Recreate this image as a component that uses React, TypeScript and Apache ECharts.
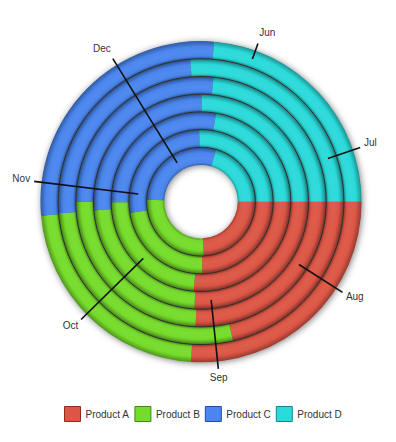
import React, { useEffect, useRef } from "react";
import * as echarts from "echarts";

// ---- data (percent share of each month) ----
const months = ["Jun", "Jul", "Aug", "Sep", "Oct", "Nov", "Dec"];
const productA = [26.0, 21.4, 25.7, 26.0, 26.3, 24.7, 24.2];
const productB = [22.6, 27.3, 24.3, 22.7, 23.6, 22.8, 26.4];
const productC = [27.7, 25.1, 26.6, 26.4, 27.8, 27.1, 28.9];
const productD = [23.7, 26.2, 23.4, 24.9, 22.3, 25.4, 20.5];
const seriesNames = ["Product A", "Product B", "Product C", "Product D"];

// ---- layout / style ----
const W = 396;
const H = 442;
const CX = 201;
const CY = 201.7;
const R0 = 36.7;
const R1 = 160.6;
const LABEL_START = 80.5; // angle-axis units where the first ring label sits
const baseColors = ["#DD5645", "#76DC2B", "#4A86EE", "#2BDADA"];
const borderColors = ["#8E2A1E", "#3E8A12", "#1E4CA8", "#138888"];
const FONT = '"Liberation Sans", Arial, sans-serif';

function shade(hex: string, f: number) {
  const n = parseInt(hex.slice(1), 16);
  let r = (n >> 16) & 255,
    g = (n >> 8) & 255,
    b = n & 255;
  const adj = (c: number) =>
    f <= 1 ? Math.round(c * f) : Math.round(c + (255 - c) * (f - 1));
  r = Math.min(255, adj(r));
  g = Math.min(255, adj(g));
  b = Math.min(255, adj(b));
  return `rgb(${r},${g},${b})`;
}

// tube-like shading for every ring, in chart pixel space
function ringGradient(base: string) {
  const band = (R1 - R0) / months.length;
  const stops: { offset: number; color: string }[] = [];
  for (let k = 0; k < months.length; k++) {
    const a = R0 + band * k;
    const b = a + band;
    stops.push({ offset: (a + 0.6) / R1, color: shade(base, 0.8) });
    stops.push({ offset: (a + 2.5) / R1, color: shade(base, 0.99) });
    stops.push({ offset: (a + 0.4 * band) / R1, color: shade(base, 1.04) });
    stops.push({ offset: (a + 0.68 * band) / R1, color: base });
    stops.push({ offset: (b - 0.8) / R1, color: shade(base, 0.72) });
  }
  return new echarts.graphic.RadialGradient(CX, CY, R1, stops, true);
}

export default function App() {
  const ref = useRef<HTMLDivElement>(null);

  useEffect(() => {
    if (!ref.current) return;
    const chart = echarts.init(ref.current, null, { renderer: "svg" });

    const raw = [productA, productB, productC, productD];
    const totals = months.map((_, i) => raw.reduce((s, arr) => s + arr[i], 0));
    const pct = raw.map((arr) => arr.map((v, i) => (v / totals[i]) * 100));

    const labelData = months.map((_, i) => [
      i,
      (LABEL_START + (i * 100) / months.length) % 100,
    ]);

    chart.setOption({
      animation: false,
      backgroundColor: "#ffffff",
      polar: { center: [CX, CY], radius: [R0, R1] },
      angleAxis: {
        type: "value",
        min: 0,
        max: 100,
        startAngle: 0,
        clockwise: true,
        show: false,
      },
      radiusAxis: {
        type: "category",
        data: months,
        inverse: true,
        axisLine: { show: false },
        axisTick: { show: false },
        axisLabel: { show: false },
        splitLine: { show: false },
      },
      legend: {
        left: 64,
        top: 406,
        padding: 0,
        itemWidth: 16,
        itemHeight: 15,
        itemGap: 5,
        textStyle: { fontFamily: FONT, fontSize: 10, color: "#333" },
        data: seriesNames.map((n, i) => ({
          name: n,
          icon: "rect",
          itemStyle: {
            color: baseColors[i],
            borderColor: borderColors[i],
            borderWidth: 1,
          },
        })),
      },
      series: [
        {
          // annulus under the bars; only its soft shadow shows outside and in the hole
          type: "custom",
          name: "shadow",
          coordinateSystem: "polar",
          silent: true,
          z: 1,
          data: [[0, 0]],
          renderItem: (params: any) => {
            const cs = params.coordSys;
            return {
              type: "ring",
              shape: { cx: cs.cx, cy: cs.cy, r: cs.r - 0.5, r0: cs.r0 + 0.5 },
              style: {
                fill: "#555",
                shadowBlur: 7,
                shadowOffsetX: 1,
                shadowOffsetY: 1,
                shadowColor: "rgba(0,0,0,0.55)",
              },
            };
          },
        },
        ...seriesNames.map((n, si) => ({
          type: "bar",
          name: n,
          coordinateSystem: "polar",
          stack: "total",
          data: pct[si],
          barCategoryGap: "0%",
          z: 2,
          itemStyle: { color: ringGradient(baseColors[si]) },
        })),
        {
          // ring separators, sized from the polar system
          type: "custom",
          name: "rings",
          coordinateSystem: "polar",
          silent: true,
          z: 5,
          data: [[0, 0]],
          renderItem: (params: any) => {
            const cs = params.coordSys;
            const n = months.length;
            const band = (cs.r - cs.r0) / n;
            const children: any[] = [];
            for (let k = 1; k < n; k++) {
              children.push({
                type: "circle",
                shape: { cx: cs.cx, cy: cs.cy, r: cs.r0 + band * k },
                style: {
                  fill: "none",
                  stroke: "#2e2e2e",
                  lineWidth: 1,
                  shadowBlur: 3,
                  shadowColor: "rgba(0,0,0,0.55)",
                },
              });
            }
            return { type: "group", children };
          },
        },
        {
          type: "custom",
          name: "labels",
          coordinateSystem: "polar",
          silent: true,
          z: 10,
          data: labelData,
          renderItem: (params: any, api: any) => {
            const cs = params.coordSys;
            const p = api.coord([api.value(0), api.value(1)]);
            const dx = p[0] - cs.cx;
            const dy = p[1] - cs.cy;
            const d = Math.hypot(dx, dy) || 1;
            const ux = dx / d;
            const uy = dy / d;
            const endR = cs.r + 7.5;
            const ex = cs.cx + ux * endR;
            const ey = cs.cy + uy * endR;
            const align = ux > 0.25 ? "left" : ux < -0.25 ? "right" : "center";
            return {
              type: "group",
              children: [
                {
                  type: "line",
                  shape: { x1: p[0], y1: p[1], x2: ex, y2: ey },
                  style: { stroke: "#111", lineWidth: 1.6 },
                },
                {
                  type: "text",
                  style: {
                    text: months[params.dataIndex],
                    x: ex + ux * 4,
                    y: ey + uy * 10 - 1.5,
                    fill: "#333",
                    font: `10px ${FONT}`,
                    align,
                    verticalAlign: "middle",
                  },
                },
              ],
            };
          },
        },
      ],
    });

    return () => chart.dispose();
  }, []);

  return (
    <div
      ref={ref}
      style={{ position: "fixed", left: 0, top: 0, width: W, height: H, background: "#fff" }}
    />
  );
}
